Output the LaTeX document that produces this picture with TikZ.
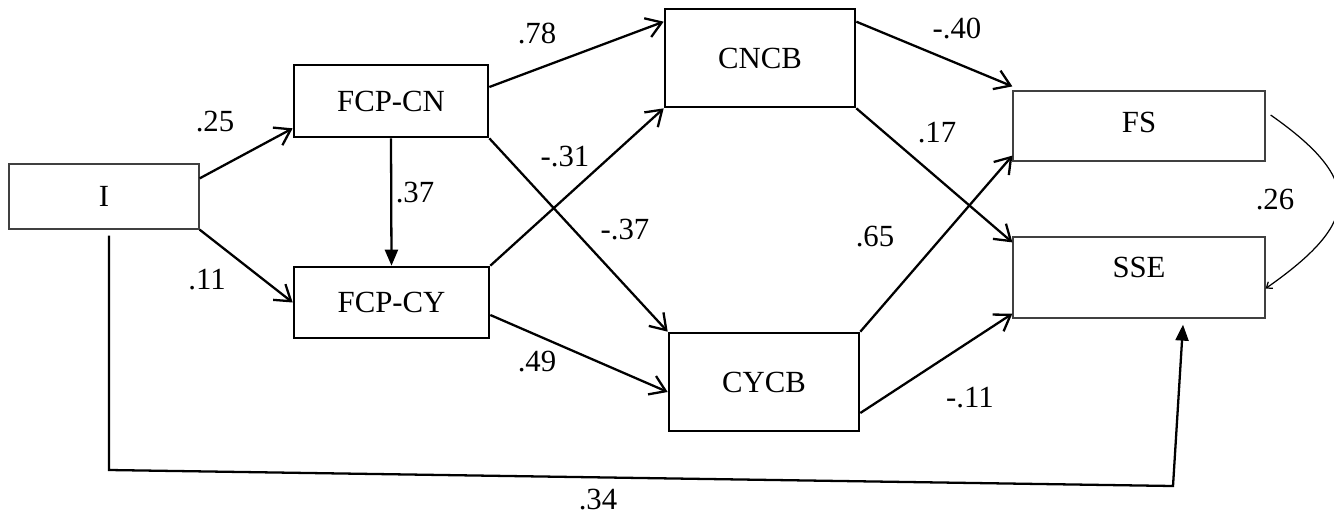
\documentclass[tikz,border=0pt]{standalone}
\usepackage{fontspec}
\setmainfont{Liberation Serif}
\usetikzlibrary{positioning, arrows.meta}

\begin{document}
\begin{tikzpicture}[
    % GLOBAL CFG
    font=\fontsize{17.5}{20}\selectfont,
    >={Straight Barb[length=3mm, width=4mm]},
    % Styles
    strongbox/.style={% For mediators
        rectangle,
        draw=black,
        line width=1.5pt,
        inner sep=1pt,
    },
    weakbox/.style={% For predictor and outcomes
        rectangle,
        draw=black!75,
        line width=.7pt,
        inner sep=1pt,
    },
    coef/.style={% For path coefficients
        inner sep=0pt,
    },
    ArrowP/.style={% Straight path arrows
        ->,
        line width=1.3pt,
    },
    ArrowT/.style={% Arrows with filled tip
        -{Triangle[length=3.2mm, width=2.6mm]},
        line width=1.3pt,
    },
    ArrowR/.style={% Thin curved arrow
        -{Straight Barb[length=1mm, width=1.6mm]},
        line width=.7pt,
    },
    ]
    \useasboundingbox (0,0) rectangle (26.68,10.32);

    % Coordinates
    \coordinate (corner1) at (2.18,0.92);
    \coordinate (corner2) at (23.46,0.60);

    % Draw boxes
    \node [weakbox, minimum width=3.8cm, minimum height=1.3cm] (I) at (2.08,6.39) {I};
    \node [strongbox, minimum width=3.88cm, minimum height=1.44cm] (fcpcn) at (7.82,8.30) {FCP-CN};
    \node [strongbox, minimum width=3.9cm, minimum height=1.42cm] (fcpcy) at (7.83,4.27) {FCP-CY};
    \node [strongbox, minimum width=3.8cm, minimum height=1.96cm] (cncb) at (15.2,9.16) {CNCB};
    \node [strongbox, minimum width=3.8cm, minimum height=1.96cm] (cycb) at (15.28,2.68) {CYCB};
    \node [weakbox, minimum width=5.04cm, minimum height=1.4cm, text depth=0.16cm] (fs) at (22.78,7.8) {FS};
    \node [weakbox, minimum width=5.04cm, minimum height=1.62cm, text depth=0.4cm] (sse) at (22.78,4.77) {SSE};

    % Paths from I
    \draw [ArrowP] ([yshift=-0.3cm]I.north east) -- ([yshift=0.2cm]fcpcn.south west);
    \draw [ArrowP] (I.south east) -- (fcpcy.west);
    \draw [ArrowT] ([xshift=0.1cm,yshift=-0.12cm]I.south) -- (corner1) -- (corner2)
        -- ([xshift=0.88cm,yshift=-0.12cm]sse.south);

    % Paths from FCP
    \draw [ArrowT] (fcpcn.south) -- (fcpcy.north);
    \draw [ArrowP] ([yshift=0.28cm]fcpcn.east) -- ([yshift=-0.28cm]cncb.north west);
    \draw [ArrowP] (fcpcn.south east) -- (cycb.north west);
    \draw [ArrowP] (fcpcy.north east) -- (cncb.south west);
    \draw [ArrowP] ([yshift=-0.25cm]fcpcy.east) -- ([yshift=-0.2cm]cycb.west);

    % Paths to outcomes
    \draw [ArrowP] ([yshift=-0.28cm]cncb.north east) -- ([yshift=0.08cm]fs.north west);
    \draw [ArrowP] (cncb.south east) -- ([yshift=-0.12cm]sse.north west);
    \draw [ArrowP] (cycb.north east) -- ([yshift=0.12cm]fs.south west);
    \draw [ArrowP] ([yshift=-0.62cm]cycb.east) -- ([yshift=0.1cm]sse.south west);

    % Correlation
    \draw [ArrowR] ([xshift=0.1cm,yshift=0.22cm]fs.east) to[out=-35, in=35, looseness=1.7] ([yshift=-0.22cm]sse.east);

    % Coefficients
    \node [coef] (c1) at (4.30,7.88) {.25};
    \node [coef] (c2) at (4.14,4.72) {.11};
    \node [coef] (c3) at (8.30,6.46) {.37};
    \node [coef] (c4) at (10.74,9.66) {.78};
    \node [coef] (c5) at (11.30,7.18) {-.31};
    \node [coef] (c6) at (12.50,5.72) {-.37};
    \node [coef] (c7) at (10.74,3.08) {.49};
    \node [coef] (c8) at (19.14,9.76) {-.40};
    \node [coef] (c9) at (18.74,7.66) {.17};
    \node [coef] (c10) at (17.50,5.58) {.65};
    \node [coef] (c11) at (19.40,2.36) {-.11};
    \node [coef] (c12) at (25.50,6.32) {.26};
    \node [coef] (c13) at (11.96,0.32) {.34};

\end{tikzpicture}
\end{document}
